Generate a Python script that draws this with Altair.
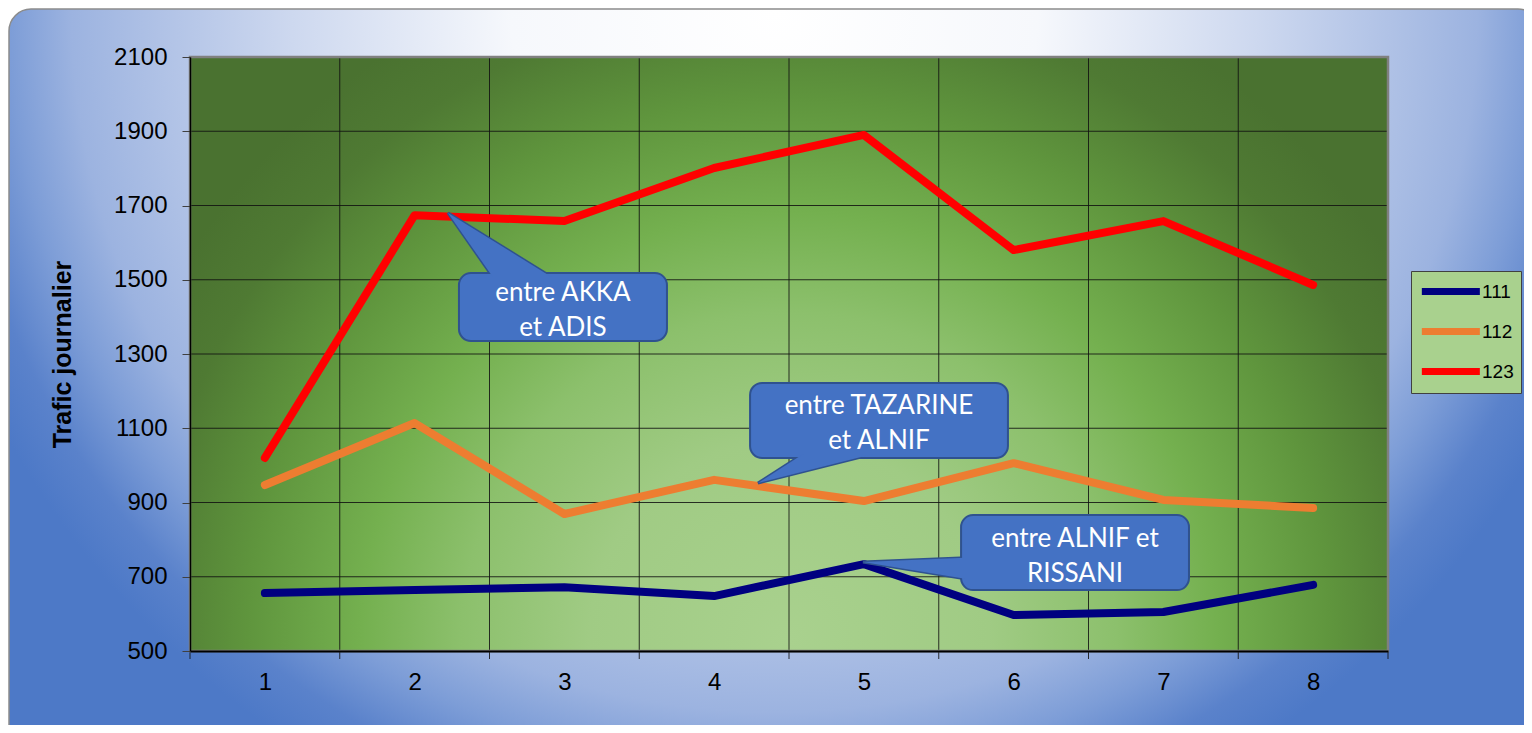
import altair as alt
import pandas as pd

# ---------------- data ----------------
days = [1, 2, 3, 4, 5, 6, 7, 8]
trafic_111 = [656, 664, 672, 648, 734, 597, 605, 678]
trafic_112 = [947, 1114, 869, 961, 904, 1006, 907, 885]
trafic_123 = [1020, 1674, 1658, 1801, 1890, 1580, 1658, 1486]
series_names = ["111", "112", "123"]
series_colors = ["#000080", "#ED7D31", "#FF0000"]
y_ticks = [500, 700, 900, 1100, 1300, 1500, 1700, 1900, 2100]
y_title = "Trafic journalier"

callout_texts = ["entre AKKA\net ADIS", "entre TAZARINE\net ALNIF", "entre ALNIF et\nRISSANI"]
callout_x1 = [2.296, 4.240, 5.649]
callout_x2 = [3.685, 5.962, 7.171]
callout_y1 = [1335, 1020, 664]
callout_y2 = [1518, 1222, 866]

# callout pointers (horizontal ones: y is the running axis; vertical one: x)
tail_h_id = ["a", "a", "b", "b"]
tail_h_y = [1507.4, 1680, 1030.6, 952.5]
tail_h_x = [2.522, 2.223, 4.595, 4.293]
tail_h_x2 = [2.914, 2.223, 5.060, 4.293]
tail_v_x = [5.675, 4.994]
tail_v_y = [751.0, 739.7]
tail_v_y2 = [694.7, 739.7]

W, H = 1198, 594

# ---------------- tables ----------------
lines_df = pd.DataFrame({
    "x": days * 3,
    "y": trafic_111 + trafic_112 + trafic_123,
    "series": [series_names[0]] * 8 + [series_names[1]] * 8 + [series_names[2]] * 8,
})
box_df = pd.DataFrame({
    "x": callout_x1, "x2": callout_x2, "y": callout_y1, "y2": callout_y2,
    "text": callout_texts,
})
box_df["xc"] = (box_df["x"] + box_df["x2"]) / 2
box_df["yc"] = (box_df["y"] + box_df["y2"]) / 2
tail_h_df = pd.DataFrame({"id": tail_h_id, "y": tail_h_y, "x": tail_h_x, "x2": tail_h_x2})
tail_v_df = pd.DataFrame({"x": tail_v_x, "y": tail_v_y, "y2": tail_v_y2})
bounds_df = pd.DataFrame({"x": [d - 0.5 for d in days] + [days[-1] + 0.5]})
hgrid_df = pd.DataFrame({"y": y_ticks})
one = pd.DataFrame({"k": [0]})

xscale = alt.Scale(domain=[0.5, 8.5], nice=False, zero=False)
yscale = alt.Scale(domain=[500, 2100], nice=False, zero=False)

X = alt.X("x:Q", scale=xscale, axis=alt.Axis(
    values=days, format="d", ticks=False, grid=False, labelFontSize=24, labelPadding=19,
    labelColor="black", domainColor="black", domainWidth=2, title=None, zindex=1,
    labelFont="Liberation Sans"))
Y = alt.Y("y:Q", scale=yscale, axis=alt.Axis(
    values=y_ticks, format="d", tickSize=8, tickColor="#404040", grid=False, labelFontSize=24,
    labelPadding=15, labelColor="black", domainColor="black", domainWidth=1.5,
    title=y_title, titleFontSize=25, titleFontWeight="bold", titleColor="black",
    titlePadding=38, zindex=1, labelFont="Liberation Sans", titleFont="Liberation Sans"))

# ---------------- backgrounds ----------------
outer_grad = alt.RadialGradient(
    gradient="radial", x1=0.5, y1=0, r1=0, x2=0.5, y2=0, r2=0.509,
    stops=[
        alt.GradientStop(color="#ffffff", offset=0),
        alt.GradientStop(color="#f6f8fc", offset=0.3),
        alt.GradientStop(color="#cdd8ef", offset=0.55),
        alt.GradientStop(color="#b0c2e6", offset=0.7),
        alt.GradientStop(color="#9cb3e0", offset=0.8),
        alt.GradientStop(color="#7d9dd7", offset=0.87),
        alt.GradientStop(color="#5a82cb", offset=0.94),
        alt.GradientStop(color="#4d79c7", offset=1),
    ])
outer_bg = alt.Chart(one).mark_rect(
    fill=outer_grad, stroke="#8c8c8c", strokeWidth=1.5, cornerRadius=22
).encode(x=alt.value(-181), x2=alt.value(1350), y=alt.value(-48), y2=alt.value(1679))

plot_grad = alt.RadialGradient(
    gradient="radial", x1=0.5, y1=0.5, r1=0, x2=0.5, y2=0.5, r2=0.5,
    stops=[
        alt.GradientStop(color="#a9d18e", offset=0),
        alt.GradientStop(color="#a0cb84", offset=0.28),
        alt.GradientStop(color="#8cc06c", offset=0.46),
        alt.GradientStop(color="#74b04f", offset=0.6),
        alt.GradientStop(color="#5f953d", offset=0.76),
        alt.GradientStop(color="#4f7a33", offset=0.9),
        alt.GradientStop(color="#4a7230", offset=1),
    ])
plot_bg = alt.Chart(one).mark_rect(fill="#4a7230").encode(
    x=alt.value(0), x2=alt.value(W), y=alt.value(0), y2=alt.value(H))
plot_glow = alt.Chart(one).mark_rect(fill=plot_grad, clip=True).encode(
    x=alt.value(0), x2=alt.value(W), y=alt.value(-130), y2=alt.value(1296))

hgrid = alt.Chart(hgrid_df).mark_rule(color="#111111", strokeWidth=1, opacity=0.85).encode(
    y=Y, x=alt.value(0), x2=alt.value(W))
vgrid = alt.Chart(bounds_df).mark_rule(color="#111111", strokeWidth=1, opacity=0.85).encode(
    x=X, y=alt.value(0), y2=alt.value(H + 8))
frame = alt.Chart(one).mark_rect(filled=False, stroke="#808080", strokeWidth=2.5).encode(
    x=alt.value(0), x2=alt.value(W), y=alt.value(0), y2=alt.value(H))

# ---------------- lines ----------------
lines = alt.Chart(lines_df).mark_line(strokeWidth=8, strokeCap="round", strokeJoin="round").encode(
    x=X, y=Y,
    color=alt.Color("series:N", scale=alt.Scale(domain=series_names, range=series_colors),
                    legend=alt.Legend(
                        title=None, orient="none", legendX=1221, legendY=214,
                        fillColor="#a9d18e", strokeColor="#404040", padding=7,
                        symbolType="M-1,0L5,0", symbolSize=374, symbolStrokeWidth=7,
                        labelFontSize=19, labelColor="black", labelFont="Liberation Sans",
                        labelOffset=37, rowPadding=11)),
    detail="series:N",
)

# ---------------- callouts ----------------
BOX = "#4472C4"
EDGE = "#2F528F"
tails_h_stroke = alt.Chart(tail_h_df).mark_area(
    orient="horizontal", fill=BOX, stroke=EDGE, strokeWidth=3).encode(
    y=Y, x=X, x2="x2:Q", detail="id:N")
tails_v_stroke = alt.Chart(tail_v_df).mark_area(
    orient="vertical", fill=BOX, stroke=EDGE, strokeWidth=3).encode(
    x=X, y=Y, y2="y2:Q")
boxes = alt.Chart(box_df).mark_rect(
    fill=BOX, stroke=EDGE, strokeWidth=2, cornerRadius=12).encode(
    x=X, x2="x2:Q", y=Y, y2="y2:Q")
tails_h_fill = alt.Chart(tail_h_df).mark_area(orient="horizontal", fill=BOX).encode(
    y=Y, x=X, x2="x2:Q", detail="id:N")
tails_v_fill = alt.Chart(tail_v_df).mark_area(orient="vertical", fill=BOX).encode(
    x=X, y=Y, y2="y2:Q")
texts = alt.Chart(box_df).mark_text(
    font="Lato", fontSize=26, color="white", lineBreak="\n", lineHeight=35,
    align="center", baseline="middle", dy=-14).encode(
    x=alt.X("xc:Q", scale=xscale), y=alt.Y("yc:Q", scale=yscale), text="text:N")

chart = alt.layer(
    outer_bg, plot_bg, plot_glow, hgrid, vgrid, frame, lines,
    tails_h_stroke, tails_v_stroke, boxes, tails_h_fill, tails_v_fill, texts,
).properties(
    width=W, height=H,
    padding={"left": 182, "top": 49, "right": 136, "bottom": 74},
    autosize=alt.AutoSizeParams(type="none"),
    background="white",
).configure_view(stroke=None).configure(font="Liberation Sans")

chart.save("out.html", embed_options={"renderer": "svg", "actions": False})
